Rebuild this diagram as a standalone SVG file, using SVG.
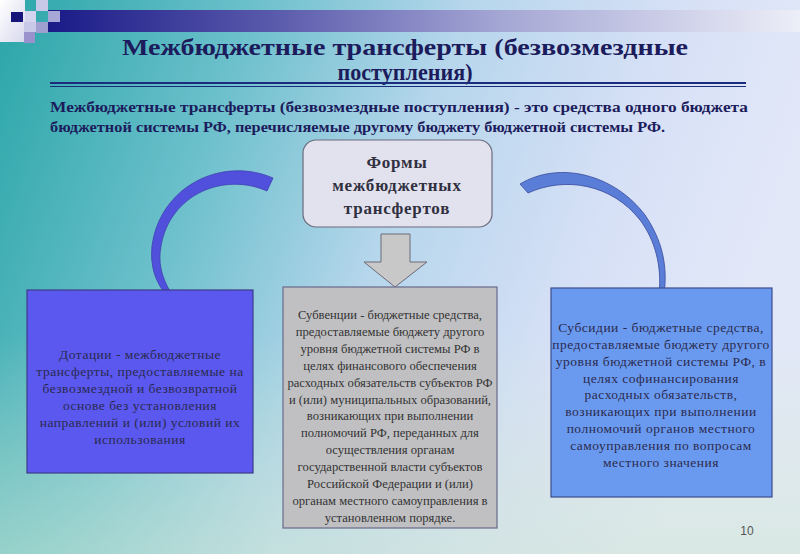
<svg xmlns="http://www.w3.org/2000/svg" width="800" height="554" viewBox="0 0 800 554">
<defs>
<linearGradient id="bg" x1="0" y1="0" x2="1" y2="0.25">
<stop offset="0" stop-color="#2aa6a8"/>
<stop offset="0.3" stop-color="#6cc0cc"/>
<stop offset="0.55" stop-color="#b6d6ec"/>
<stop offset="0.8" stop-color="#d6e0f6"/>
<stop offset="1" stop-color="#e2e8f8"/>
</linearGradient>
<linearGradient id="bgv" x1="0" y1="0" x2="0" y2="1">
<stop offset="0.6" stop-color="#d8ecd0" stop-opacity="0"/>
<stop offset="1" stop-color="#d0e8d0" stop-opacity="0.5"/>
</linearGradient>
<linearGradient id="bar" x1="0" y1="0" x2="1" y2="0">
<stop offset="0" stop-color="#1a1a88"/>
<stop offset="0.3" stop-color="#5a5aac"/>
<stop offset="0.6" stop-color="#a4a6d4"/>
<stop offset="1" stop-color="#eceef8"/>
</linearGradient>
<linearGradient id="wsq" x1="0" y1="0" x2="1" y2="1">
<stop offset="0" stop-color="#ffffff"/>
<stop offset="1" stop-color="#d8d8ee"/>
</linearGradient>
<style>
.title{font-family:"Liberation Serif",serif;font-weight:bold;font-size:24px;fill:#1c1c5c;text-anchor:middle}
.para{font-family:"Liberation Serif",serif;font-weight:bold;font-size:15px;fill:#1c1c5c}
.hdr{font-family:"Liberation Serif",serif;font-weight:bold;font-size:17px;letter-spacing:0.8px;fill:#303040;text-anchor:middle}
.bt{font-family:"Liberation Serif",serif;font-size:12.6px;text-anchor:middle}
.wide{font-size:13.5px;letter-spacing:0.5px}
.dark{fill:#2a2a4e}
.grey{fill:#333333}
.num{font-family:"Liberation Sans",sans-serif;font-size:12px;fill:#555555;text-anchor:middle}
</style>
</defs>
<rect width="800" height="554" fill="url(#bg)"/>
<rect width="800" height="554" fill="url(#bgv)"/>
<g id="decor">
<rect x="48" y="10" width="752" height="22" fill="url(#bar)"/>
<rect x="0" y="0" width="25" height="42" fill="url(#wsq)"/>
<rect x="11" y="12" width="12" height="10" fill="#16167a"/>
<rect x="25" y="11" width="11" height="11" fill="#d4d4ee"/>
<rect x="36" y="0" width="12" height="11" fill="#c8c8e8"/>
<rect x="48" y="11" width="12" height="11" fill="#a8a8d8"/>
<rect x="36" y="22" width="12" height="11" fill="#a0a0d0"/>
<rect x="24" y="22" width="12" height="10" fill="#c8c8e8"/>
<rect x="24" y="32" width="11" height="11" fill="#9a92cc"/>
</g>
<g id="title">
<text class="title" x="405" y="55" textLength="566" lengthAdjust="spacingAndGlyphs">Межбюджетные трансферты (безвозмездные</text>
<text class="title" x="405" y="80" textLength="135" lengthAdjust="spacingAndGlyphs">поступления)</text>
<line x1="50" y1="83" x2="746" y2="83" stroke="#1c2c7c" stroke-width="2.2"/>
<line x1="50" y1="86.5" x2="746" y2="86.5" stroke="#1c2c7c" stroke-width="1"/>
</g>
<g id="definition">
<text class="para" x="50" y="112" textLength="698" lengthAdjust="spacingAndGlyphs">Межбюджетные трансферты (безвозмездные поступления) - это средства одного бюджета</text>
<text class="para" x="50" y="132" textLength="615" lengthAdjust="spacingAndGlyphs">бюджетной системы РФ, перечисляемые другому бюджету бюджетной системы РФ.</text>
</g>
<g id="connectors">
<path d="M 273,178 C 222,156 160,186 152,246 C 150,266 155,281 166,295 L 171,293 C 161,276 158,262 161,246 C 170,194 224,172 267,191 Z" fill="#5050dc" stroke="#4040b0" stroke-width="0.8"/>
<path d="M 520,184 C 560,160 615,175 645,215 C 662,240 668,265 664,295 L 659,294 C 662,266 655,240 640,220 C 612,184 565,176 528,193 Z" fill="#5a7ed8" stroke="#3a4a9a" stroke-width="0.8"/>
<path d="M 381,234 L 410,234 L 410,262 L 427,262 L 395,287 L 364,262 L 381,262 Z" fill="#c8c8c8" stroke="#6a6a78" stroke-width="1"/>
</g>
<g id="node-forms">
<rect x="303" y="140" width="189" height="87" rx="13" fill="#e2e2ee" stroke="#6a6a7c" stroke-width="1.2"/>
<text class="hdr" x="397" y="168">Формы</text>
<text class="hdr" x="397" y="191">межбюджетных</text>
<text class="hdr" x="397" y="214">трансфертов</text>
</g>
<g id="node-dotacii">
<rect x="27" y="290" width="226" height="183" fill="#5a58ee" stroke="#3c3c88" stroke-width="1.2"/>
<text class="bt wide dark" x="140" y="359">Дотации - межбюджетные</text>
<text class="bt wide dark" x="140" y="376">трансферты, предоставляемые на</text>
<text class="bt wide dark" x="140" y="393">безвозмездной и безвозвратной</text>
<text class="bt wide dark" x="140" y="410">основе без установления</text>
<text class="bt wide dark" x="140" y="427">направлений и (или) условий их</text>
<text class="bt wide dark" x="140" y="444">использования</text>
</g>
<g id="node-subvencii">
<rect x="283" y="287" width="214" height="241" fill="#c0c0c2" stroke="#6a6a8a" stroke-width="1.2"/>
<text class="bt grey" x="390" y="319">Субвенции - бюджетные средства,</text>
<text class="bt grey" x="390" y="336">предоставляемые бюджету другого</text>
<text class="bt grey" x="390" y="353">уровня бюджетной системы РФ в</text>
<text class="bt grey" x="390" y="370">целях финансового обеспечения</text>
<text class="bt grey" x="390" y="387">расходных обязательств субъектов РФ</text>
<text class="bt grey" x="390" y="404">и (или) муниципальных образований,</text>
<text class="bt grey" x="390" y="420">возникающих при выполнении</text>
<text class="bt grey" x="390" y="437">полномочий РФ, переданных для</text>
<text class="bt grey" x="390" y="454">осуществления органам</text>
<text class="bt grey" x="390" y="471">государственной власти субъектов</text>
<text class="bt grey" x="390" y="488">Российской Федерации и (или)</text>
<text class="bt grey" x="390" y="505">органам местного самоуправления в</text>
<text class="bt grey" x="390" y="522">установленном порядке.</text>
</g>
<g id="node-subsidii">
<rect x="551" y="288" width="221" height="209" fill="#6a9af0" stroke="#3c4c8c" stroke-width="1.2"/>
<text class="bt wide dark" x="661" y="332">Субсидии - бюджетные средства,</text>
<text class="bt wide dark" x="661" y="349">предоставляемые бюджету другого</text>
<text class="bt wide dark" x="661" y="366">уровня бюджетной системы РФ, в</text>
<text class="bt wide dark" x="661" y="383">целях софинансирования</text>
<text class="bt wide dark" x="661" y="399">расходных обязательств,</text>
<text class="bt wide dark" x="661" y="416">возникающих при выполнении</text>
<text class="bt wide dark" x="661" y="433">полномочий органов местного</text>
<text class="bt wide dark" x="661" y="450">самоуправления по вопросам</text>
<text class="bt wide dark" x="661" y="467">местного значения</text>
</g>
<text class="num" x="747" y="535">10</text>
</svg>
